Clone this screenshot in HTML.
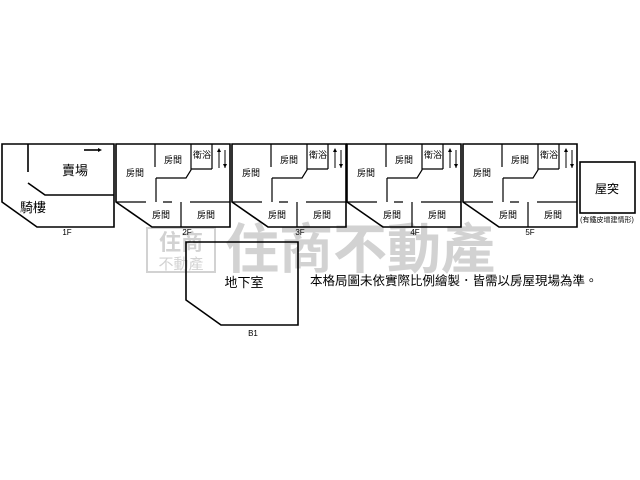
<!DOCTYPE html>
<html><head><meta charset="utf-8"><style>
body{margin:0;background:#fff}
svg{display:block}
text{font-family:"Liberation Sans","Noto Sans CJK TC",sans-serif}
</style></head><body>
<svg width="640" height="480" viewBox="0 0 640 480" xmlns="http://www.w3.org/2000/svg">
<!-- watermark -->
<g fill="#d2d2d2">
<rect x="147" y="228" width="68" height="44" fill="none" stroke="#d2d2d2" stroke-width="2"/>
<text x="181" y="250" font-size="22" font-weight="bold" text-anchor="middle">住商</text>
<text x="181" y="269" font-size="15" text-anchor="middle">不動產</text>
<text x="360" y="268" font-size="54" font-weight="bold" text-anchor="middle">住商不動產</text>
</g>
<g fill="none" stroke="#000" stroke-width="1.6">
<!-- 1F -->
<path d="M2,144 H114 V227 H37 L2,202 Z"/>
<path d="M28,144 V172 M28,183 L45,195 H114"/>
<path d="M84,150 H100"/>
</g>
<path d="M98,148 L102,150 L98,152 Z"/>
<text x="75" y="175" font-size="13" text-anchor="middle">賣場</text>
<text x="33" y="212" font-size="13" text-anchor="middle">騎樓</text>
<text x="67" y="235" font-size="8" text-anchor="middle">1F</text>

<defs>
<g id="fl">
<path d="M116,144 H230 V227 H152 L116,202 Z" fill="none" stroke="#000" stroke-width="1.6"/>
<path d="M155,144 V167 M156,178 H186 L191,170 V144 M191,169 H212 M212,144 V169 M116,202 H146 M156,202 V178 M163,202 H172 M190,202 H230 M181,202 V227" fill="none" stroke="#000" stroke-width="1.2"/>
<path d="M219,150 V168 M225,150 V168" stroke="#000" stroke-width="1"/>
<path d="M217,152 L219,148 L221,152 Z M223,164 L225,168 L227,164 Z"/>
<text x="135" y="176" font-size="9" text-anchor="middle">房間</text>
<text x="173" y="163" font-size="9" text-anchor="middle">房間</text>
<text x="202" y="158" font-size="9" text-anchor="middle">衛浴</text>
<text x="161" y="218" font-size="9" text-anchor="middle">房間</text>
<text x="206" y="218" font-size="9" text-anchor="middle">房間</text>
</g>
</defs>
<use href="#fl"/>
<use href="#fl" x="116"/>
<use href="#fl" x="231"/>
<use href="#fl" x="347"/>
<g font-size="8" text-anchor="middle">
<text x="187" y="235">2F</text><text x="300" y="235">3F</text>
<text x="415" y="235">4F</text><text x="530" y="235">5F</text>
</g>
<rect x="580" y="162" width="55" height="51" fill="none" stroke="#000" stroke-width="1.6"/>
<text x="607" y="193" font-size="12" text-anchor="middle">屋突</text>
<text x="607" y="222" font-size="7" text-anchor="middle">(有鐵皮增建情形)</text>

<!-- B1 -->
<path d="M186,242 H298 V325 H221 L186,300 Z" fill="none" stroke="#000" stroke-width="1.6"/>
<text x="244" y="287" font-size="13" text-anchor="middle">地下室</text>
<text x="253" y="336" font-size="8" text-anchor="middle">B1</text>
<text x="310" y="285" font-size="12.5">本格局圖未依實際比例繪製．皆需以房屋現場為準。</text>
</svg>
</body></html>
